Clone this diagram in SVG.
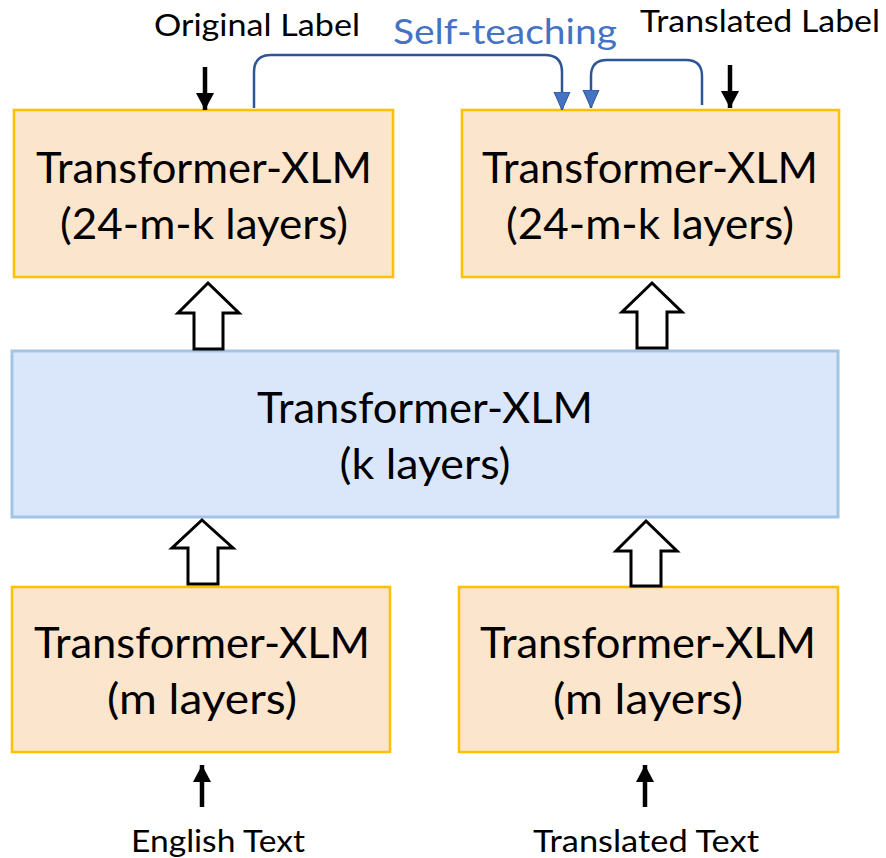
<svg xmlns="http://www.w3.org/2000/svg" width="886" height="858" viewBox="0 0 886 858">
<style>
.txt{font-family:Lato,"Open Sans","Liberation Sans",sans-serif;fill:#000;}
.box-o{fill:#FCE5CD;stroke:#FFC000;stroke-width:2.5;}
.box-b{fill:#DAE7FB;stroke:#A4C4E6;stroke-width:3;}
.big{font-size:42px;}
.lbl{font-size:30px;}
.blk{fill:#fff;stroke:#000;stroke-width:3;stroke-linejoin:miter;}
.thin{stroke:#000;stroke-width:4.5;fill:none;}
.blue{stroke:#2F5597;stroke-width:2.5;fill:none;}
</style>
<defs>
<marker id="ah" markerUnits="userSpaceOnUse" markerWidth="20" markerHeight="20" refX="17" refY="9" orient="auto" viewBox="0 0 20 18">
<path d="M0,0 L17,9 L0,18 Z" fill="#000"/>
</marker>
<marker id="bh" markerUnits="userSpaceOnUse" markerWidth="20" markerHeight="20" refX="18" refY="8" orient="auto" viewBox="0 0 20 16">
<path d="M0,0 L18,8 L0,16 Z" fill="#4472C4" stroke="#2F5597" stroke-width="1"/>
</marker>
</defs>

<g id="labels">
<text class="txt lbl" x="257" y="36" text-anchor="middle" textLength="206" lengthAdjust="spacingAndGlyphs">Original Label</text>
<text class="txt" x="505" y="44" text-anchor="middle" font-size="35" style="fill:#4472C4" textLength="224" lengthAdjust="spacingAndGlyphs">Self-teaching</text>
<text class="txt lbl" x="760" y="32" text-anchor="middle" textLength="240" lengthAdjust="spacingAndGlyphs">Translated Label</text>
<text class="txt lbl" x="218" y="852" text-anchor="middle" textLength="174" lengthAdjust="spacingAndGlyphs">English Text</text>
<text class="txt lbl" x="646" y="852" text-anchor="middle" textLength="226" lengthAdjust="spacingAndGlyphs">Translated Text</text>
</g>

<g id="node-top-left">
<rect class="box-o" x="14" y="110" width="379" height="167"/>
<text class="txt big" x="204" y="183" text-anchor="middle" textLength="336" lengthAdjust="spacingAndGlyphs">Transformer-XLM</text>
<text class="txt big" x="204" y="239" text-anchor="middle" textLength="288" lengthAdjust="spacingAndGlyphs">(24-m-k layers)</text>
</g>

<g id="node-top-right">
<rect class="box-o" x="462" y="110" width="377" height="167"/>
<text class="txt big" x="650" y="183" text-anchor="middle" textLength="336" lengthAdjust="spacingAndGlyphs">Transformer-XLM</text>
<text class="txt big" x="650" y="239" text-anchor="middle" textLength="288" lengthAdjust="spacingAndGlyphs">(24-m-k layers)</text>
</g>

<g id="node-middle">
<rect class="box-b" x="12" y="351" width="826" height="166"/>
<text class="txt big" x="425" y="423" text-anchor="middle" textLength="336" lengthAdjust="spacingAndGlyphs">Transformer-XLM</text>
<text class="txt big" x="425" y="479" text-anchor="middle" textLength="171" lengthAdjust="spacingAndGlyphs">(k layers)</text>
</g>

<g id="node-bottom-left">
<rect class="box-o" x="12" y="587" width="378" height="165"/>
<text class="txt big" x="202" y="658" text-anchor="middle" textLength="336" lengthAdjust="spacingAndGlyphs">Transformer-XLM</text>
<text class="txt big" x="202" y="714" text-anchor="middle" textLength="190" lengthAdjust="spacingAndGlyphs">(m layers)</text>
</g>

<g id="node-bottom-right">
<rect class="box-o" x="459" y="587" width="379" height="165"/>
<text class="txt big" x="648" y="658" text-anchor="middle" textLength="336" lengthAdjust="spacingAndGlyphs">Transformer-XLM</text>
<text class="txt big" x="648" y="714" text-anchor="middle" textLength="190" lengthAdjust="spacingAndGlyphs">(m layers)</text>
</g>

<g id="connectors">
<polygon class="blk" points="208,283 239,313 223,313 223,349 194,349 194,313 178,313"/>
<polygon class="blk" points="652,283 682,312 667,312 667,348 637,348 637,312 622,312"/>
<polygon class="blk" points="202,520 233,548 218,548 218,584 188,584 188,548 172,548"/>
<polygon class="blk" points="646,521 677,551 661,551 661,586 631,586 631,551 616,551"/>

<path class="thin" d="M205,67 V110" marker-end="url(#ah)"/>
<path class="thin" d="M730,65 V108" marker-end="url(#ah)"/>
<path class="thin" d="M202,807 V765" marker-end="url(#ah)"/>
<path class="thin" d="M645,807 V765" marker-end="url(#ah)"/>

<path class="blue" d="M254,108 V72 Q254,55 271,55 H545 Q562,55 562,72 V110" marker-end="url(#bh)"/>
<path class="blue" d="M702,105 V76 Q702,60 686,60 H607 Q591,60 591,76 V108" marker-end="url(#bh)"/>
</g>
</svg>
